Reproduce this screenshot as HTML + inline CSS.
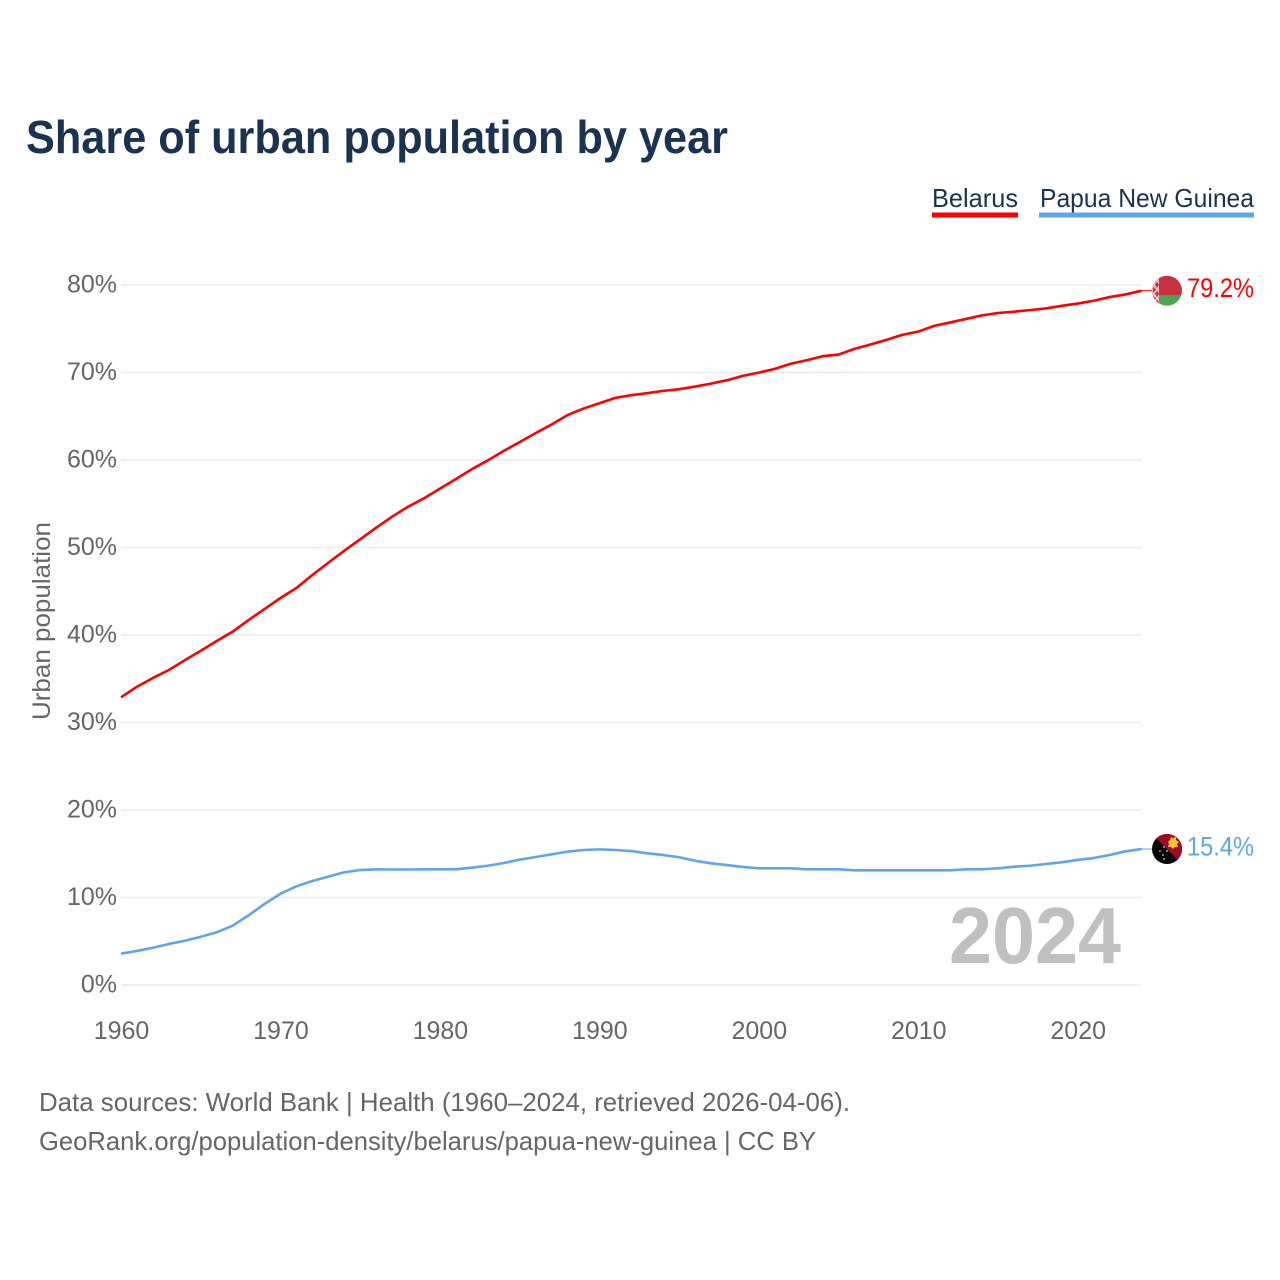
<!DOCTYPE html>
<html lang="en">
<head>
<meta charset="utf-8">
<title>Share of urban population by year</title>
<style>
html,body{margin:0;padding:0;background:#fff;}
svg{display:block;}
text{font-family:"Liberation Sans",sans-serif;}
</style>
</head>
<body>
<svg id="chart" xmlns="http://www.w3.org/2000/svg" width="1280" height="1280" viewBox="0 0 1280 1280">
<rect width="1280" height="1280" fill="#fff"/>
<text x="26" y="153" font-size="46" font-weight="700" fill="#1a3353" textLength="702" lengthAdjust="spacingAndGlyphs">Share of urban population by year</text>
<text x="932" y="207" font-size="26" fill="#1a3353" textLength="86" lengthAdjust="spacingAndGlyphs">Belarus</text>
<rect x="932" y="212.5" width="86" height="5" fill="#ff0000"/>
<text x="1040" y="207" font-size="26" fill="#1a3353" textLength="214" lengthAdjust="spacingAndGlyphs">Papua New Guinea</text>
<rect x="1039" y="212.5" width="215" height="5" fill="#5fa5ec"/>
<text transform="translate(50,621) rotate(-90)" text-anchor="middle" font-size="25" fill="#666" textLength="198" lengthAdjust="spacingAndGlyphs">Urban population</text>
<g id="grid"></g>
<g id="yticks"></g>
<g id="xticks"></g>
<text x="949" y="963" font-size="80" font-weight="700" fill="#c0c0c0" textLength="172" lengthAdjust="spacingAndGlyphs">2024</text>
<g id="series"></g>
<defs>
<clipPath id="clip-by"><circle cx="0" cy="0" r="15"/></clipPath>
<clipPath id="clip-pg"><circle cx="0" cy="0" r="15"/></clipPath>
</defs>
<g id="flag-by">
<g clip-path="url(#clip-by)">
<rect x="-15" y="-15" width="30" height="20" fill="#c8313e"/>
<rect x="-15" y="5" width="30" height="10" fill="#4aa657"/>
<rect x="-15" y="-15" width="7" height="30" fill="#e6bcbc"/>
<path d="M-14 -13l3 3-3 3zM-10 -9l2 3-2 3-2-3zM-14 -4l3 3-3 3zM-10 0l2 3-2 3-2-3zM-14 5l3 3-3 3zM-10 9l2 3-2 3-2-3z" fill="#c8313e"/>
</g>
</g>
<g id="flag-pg">
<g clip-path="url(#clip-pg)">
<rect x="-15" y="-15" width="30" height="30" fill="#000"/>
<path d="M-15 -15H15V15Z" fill="#a00a24"/>
<path d="M1 -7l2-2 1-3 2 1 3-1 0 3 3 2-2 2 1 3-3 0-2 2-2-2-3 0 1-3z" fill="#fcc22e"/>
<circle cx="-7" cy="2" r="0.9" fill="#ccc"/>
<circle cx="-3" cy="-2" r="0.9" fill="#ccc"/>
<circle cx="0" cy="2" r="0.9" fill="#ccc"/>
<circle cx="-4" cy="6" r="0.9" fill="#ccc"/>
<circle cx="-3" cy="10" r="0.9" fill="#ccc"/>
</g>
</g>
<g id="value-labels"></g>
<text x="39" y="1111" font-size="26" fill="#666" textLength="811" lengthAdjust="spacingAndGlyphs">Data sources: World Bank | Health (1960–2024, retrieved 2026-04-06).</text>
<text x="39" y="1150" font-size="26" fill="#666" textLength="777" lengthAdjust="spacingAndGlyphs">GeoRank.org/population-density/belarus/papua-new-guinea | CC BY</text>
</svg>
<script>
const years = [1960,1961,1962,1963,1964,1965,1966,1967,1968,1969,1970,1971,1972,1973,1974,1975,1976,1977,1978,1979,1980,1981,1982,1983,1984,1985,1986,1987,1988,1989,1990,1991,1992,1993,1994,1995,1996,1997,1998,1999,2000,2001,2002,2003,2004,2005,2006,2007,2008,2009,2010,2011,2012,2013,2014,2015,2016,2017,2018,2019,2020,2021,2022,2023,2024];
const belarusValues = [32.88,34.09,35.09,36.0,37.12,38.2,39.31,40.38,41.71,42.97,44.23,45.37,46.86,48.26,49.63,50.94,52.26,53.52,54.66,55.62,56.73,57.81,58.95,59.95,61.04,62.04,63.07,64.06,65.13,65.88,66.49,67.1,67.41,67.64,67.9,68.09,68.39,68.73,69.12,69.61,69.99,70.41,71.0,71.4,71.86,72.05,72.7,73.2,73.73,74.3,74.68,75.33,75.72,76.12,76.53,76.8,76.95,77.13,77.32,77.62,77.88,78.2,78.62,78.92,79.35];
const papuaValues = [3.58,3.89,4.26,4.69,5.06,5.52,6.02,6.78,7.96,9.26,10.43,11.28,11.89,12.38,12.88,13.14,13.22,13.2,13.2,13.22,13.22,13.22,13.41,13.63,13.94,14.32,14.63,14.93,15.24,15.43,15.5,15.43,15.31,15.05,14.86,14.6,14.2,13.91,13.71,13.49,13.33,13.33,13.33,13.22,13.22,13.22,13.11,13.11,13.11,13.11,13.11,13.11,13.11,13.22,13.22,13.33,13.52,13.63,13.83,14.02,14.29,14.51,14.86,15.28,15.54];
const yTickValues = [0,10,20,30,40,50,60,70,80];
const xTickValues = [1960,1970,1980,1990,2000,2010,2020];
const belarusLabel = "79.2%";
const papuaLabel = "15.4%";

const NS = "http://www.w3.org/2000/svg";
const X0 = 121, X1 = 1141.5, Y0 = 985, YPX = 8.75;
function xScale(year) { return X0 + (year - years[0]) * (X1 - X0) / (years[years.length - 1] - years[0]); }
function yScale(v) { return Y0 - v * YPX; }
function make(tag, parent) {
  const el = document.createElementNS(NS, tag);
  parent.appendChild(el);
  return el;
}

const grid = document.getElementById('grid');
const yticks = document.getElementById('yticks');
yTickValues.forEach(function (v) {
  const line = make('line', grid);
  
  
  line.setAttribute('x1', X0);
  line.setAttribute('x2', X1);
  line.setAttribute('y1', yScale(v));
  line.setAttribute('y2', yScale(v));
  line.setAttribute('stroke', '#ececec');
  line.setAttribute('stroke-width', '1.6');
  const t = make('text', yticks);
  
  
  t.setAttribute('x', 117);
  t.setAttribute('y', yScale(v) + 7.5);
  t.setAttribute('text-anchor', 'end');
  t.setAttribute('font-size', '25');
  t.setAttribute('fill', '#666');
  t.textContent = v + '%';
});

const xticks = document.getElementById('xticks');
xTickValues.forEach(function (yr) {
  const t = make('text', xticks);
  
  
  t.setAttribute('x', xScale(yr) + 0.5);
  t.setAttribute('y', 1039);
  t.setAttribute('text-anchor', 'middle');
  t.setAttribute('font-size', '25');
  t.setAttribute('fill', '#666');
  t.textContent = yr;
});

const series = document.getElementById('series');
const valueLabels = document.getElementById('value-labels');
function drawSeries(values, color, lineName, leaderName, labelName, labelText, flagId) {
  const path = make('path', series);
  
  
  path.setAttribute('d', values.map(function (v, i) {
    return (i ? 'L' : 'M') + xScale(years[i]).toFixed(2) + ' ' + yScale(v).toFixed(2);
  }).join(''));
  path.setAttribute('fill', 'none');
  path.setAttribute('stroke', color);
  path.setAttribute('stroke-width', '2.6');
  path.setAttribute('stroke-linejoin', 'round');
  const endY = yScale(values[values.length - 1]);
  const leader = make('line', series);
  
  
  leader.setAttribute('x1', X1);
  leader.setAttribute('x2', 1152);
  leader.setAttribute('y1', endY);
  leader.setAttribute('y2', endY);
  leader.setAttribute('stroke', color);
  leader.setAttribute('stroke-width', '1');
  const t = make('text', valueLabels);
  
  
  t.setAttribute('x', 1187);
  t.setAttribute('y', endY + 6.5);
  t.setAttribute('font-size', '27');
  t.setAttribute('fill', color);
  t.setAttribute('textLength', '67');
  t.setAttribute('lengthAdjust', 'spacingAndGlyphs');
  t.textContent = labelText;
  document.getElementById(flagId).setAttribute('transform', 'translate(1167,' + endY + ')');
}
drawSeries(belarusValues, '#ff0000', 'line-belarus', 'leader-belarus', 'value-label-belarus', belarusLabel, 'flag-by');
drawSeries(papuaValues, '#5fa5ec', 'line-papua-new-guinea', 'leader-papua-new-guinea', 'value-label-papua-new-guinea', papuaLabel, 'flag-pg');
</script>
</body>
</html>
